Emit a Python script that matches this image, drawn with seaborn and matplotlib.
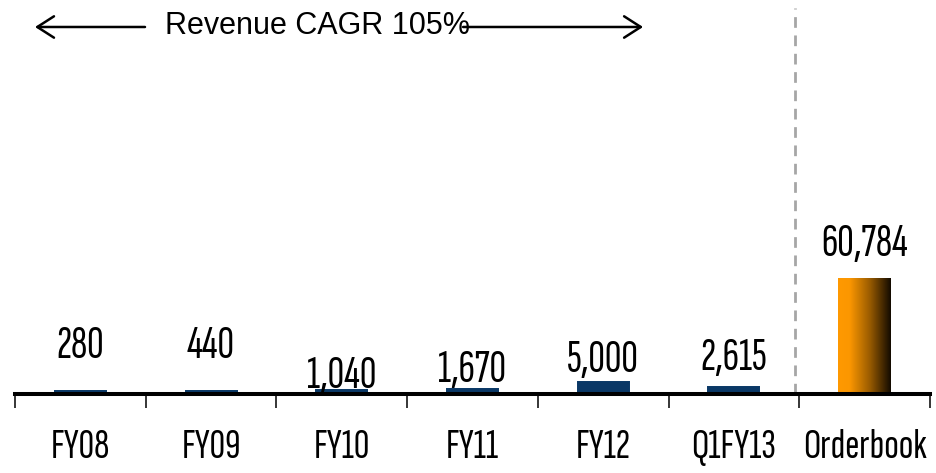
import numpy as np
import pandas as pd
import matplotlib
matplotlib.use("Agg")
import matplotlib.pyplot as plt
from matplotlib.colors import LinearSegmentedColormap
from matplotlib.transforms import blended_transform_factory
import seaborn as sns

# Revenue by period and the current order book
periods = ["FY08", "FY09", "FY10", "FY11", "FY12", "Q1FY13"]
revenue = [280, 440, 1040, 1670, 5000, 2615]
orderbook_label = "Orderbook"
orderbook_value = 60784
categories = periods + [orderbook_label]
cagr_text = "Revenue CAGR 105%"

# vertical nudge (points) of each value label above its bar
label_offsets = [25.5, 25, 3, 6.5, 9, 13.5, 16]

sns.set_style("white")
plt.rcParams["font.family"] = ["Liberation Sans", "DejaVu Sans"]
NARROW = ["Sofia Sans Extra Condensed", "Roboto Condensed", "DejaVu Sans"]

fig = plt.figure(figsize=(9.36, 4.73), dpi=100)
fig.patch.set_facecolor("white")
ax = fig.add_axes([15 / 936, 79 / 473, 915 / 936, 394 / 473])

rev_df = pd.DataFrame({"period": periods, "value": revenue})
ob_df = pd.DataFrame({"period": [orderbook_label], "value": [orderbook_value]})

navy = "#0a3866"
sns.barplot(data=rev_df, x="period", y="value", order=categories, color=navy,
            width=0.36, saturation=1, edgecolor=navy, linewidth=4.3,
            errorbar=None, ax=ax)
n_rev = len(ax.patches)
sns.barplot(data=ob_df, x="period", y="value", order=categories, color="#ff9900",
            width=0.4, saturation=1, linewidth=0, errorbar=None, ax=ax)
ob_patch = max(ax.patches[n_rev:], key=lambda p: p.get_height())

# orange-to-black horizontal gradient filling the order book bar
ob_patch.set_facecolor("none")
x0, w, h = ob_patch.get_x(), ob_patch.get_width(), ob_patch.get_height()
grad = np.linspace(0, 1, 256).reshape(1, -1)
cmap = LinearSegmentedColormap.from_list(
    "ob", [(0, "#ff9900"), (0.22, "#fc9700"), (0.6, "#9a5c00"), (1, "#120a00")])
im = ax.imshow(grad, extent=[x0, x0 + w, 0, h], aspect="auto", cmap=cmap,
               interpolation="bilinear", zorder=ob_patch.get_zorder())
im.set_clip_path(ob_patch)

# value labels
values = revenue + [orderbook_value]
for i, (v, off) in enumerate(zip(values, label_offsets)):
    ax.annotate(f"{v:,}", xy=(i, v), xytext=(0, off), textcoords="offset points",
                ha="center", va="baseline", fontsize=33, family=NARROW,
                color="black", annotation_clip=False)

ax.set_xlim(-0.5, 6.5)
ax.set_ylim(0, 206500)
sns.despine(ax=ax, left=True)
ax.spines["bottom"].set_linewidth(2.9)
ax.spines["bottom"].set_color("black")
ax.set_yticks([])
ax.set_xlabel("")
ax.set_ylabel("")
ax.set_xticks(range(len(categories)))
ax.set_xticklabels(categories, family=NARROW, fontsize=31, color="black")
ax.set_xticks(np.arange(-0.5, len(categories), 1), minor=True)
ax.tick_params(axis="x", which="major", length=0, pad=25, bottom=True)
ax.tick_params(axis="x", which="minor", length=10, width=1.1, color="black",
               direction="out", bottom=True)

# separator between historical revenue and the order book
ax.axvline(5.47, ymin=0, ymax=0.98, color="#a6a6a6", lw=2,
           linestyle=(0, (3.85, 2.75)))

# CAGR annotation with arrows spanning the revenue periods
trans = blended_transform_factory(ax.transData, ax.transAxes)
ax.text(0.648, 0.9137, cagr_text, transform=trans, ha="left", va="baseline",
        fontsize=22, color="black")
arrow_kw = dict(arrowstyle="->,head_length=0.6,head_width=0.385", lw=1.8,
                color="black", mutation_scale=20, shrinkA=0, shrinkB=0)
ax.annotate("", xy=(-0.347, 0.9315), xytext=(0.4946, 0.9315),
            xycoords=trans, textcoords=trans, arrowprops=arrow_kw)
ax.annotate("", xy=(4.305, 0.9315), xytext=(2.928, 0.9315),
            xycoords=trans, textcoords=trans, arrowprops=arrow_kw)

fig.savefig("out.png", dpi=100, facecolor="white")
